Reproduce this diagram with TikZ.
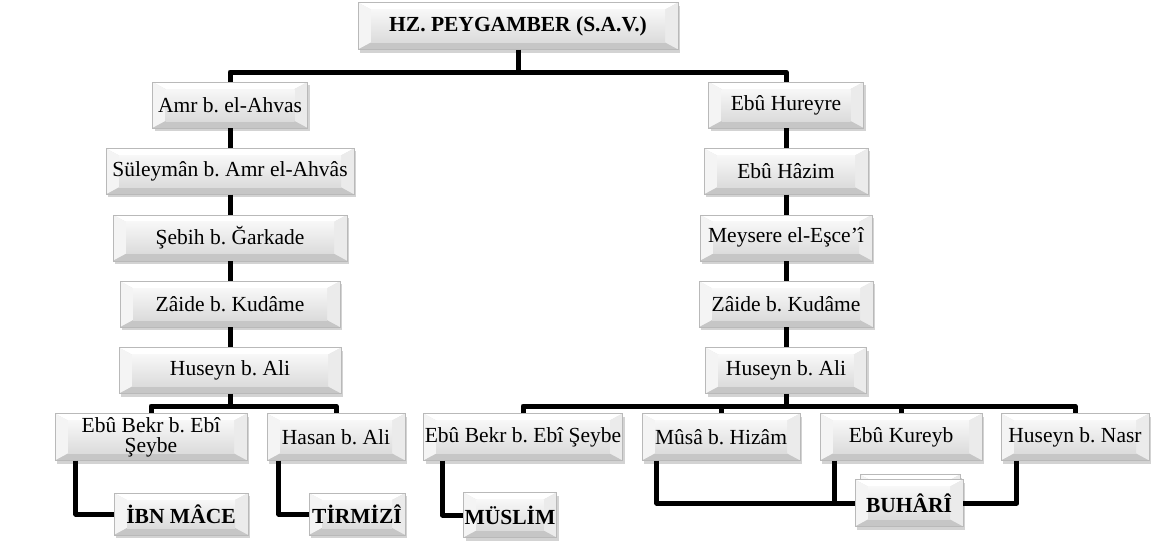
\documentclass[tikz,border=0pt]{standalone}
\usepackage{fontspec}
\setmainfont{Liberation Serif}
\usetikzlibrary{positioning,calc,shadows}
\frenchspacing

\tikzset{
    bevel/.style={path picture={
        \fill[gray!22] (path picture bounding box.north west) rectangle (path picture bounding box.south east);
        \fill[white] (path picture bounding box.north west) -- (path picture bounding box.north east)
            -- ($(path picture bounding box.north east)+(-13pt,-7pt)$) -- ($(path picture bounding box.north west)+(13pt,-7pt)$) -- cycle;
        \fill[white!70!gray!30] (path picture bounding box.north west) -- (path picture bounding box.south west)
            -- ($(path picture bounding box.south west)+(13pt,7pt)$) -- ($(path picture bounding box.north west)+(13pt,-7pt)$) -- cycle;
        \fill[white!60!gray!40] (path picture bounding box.north east) -- (path picture bounding box.south east)
            -- ($(path picture bounding box.south east)+(-13pt,7pt)$) -- ($(path picture bounding box.north east)+(-13pt,-7pt)$) -- cycle;
        \fill[gray!45] (path picture bounding box.south west) -- (path picture bounding box.south east)
            -- ($(path picture bounding box.south east)+(-13pt,7pt)$) -- ($(path picture bounding box.south west)+(13pt,7pt)$) -- cycle;
        \shade[top color=gray!6, bottom color=gray!28] ($(path picture bounding box.north west)+(13pt,-7pt)$) rectangle ($(path picture bounding box.south east)+(-13pt,7pt)$);
    }}
}

\begin{document}
\begin{tikzpicture}[
    x=1pt, y=-1pt,
    node distance=20pt,
    box/.style={rectangle, draw=gray!55, fill=gray!20, bevel, minimum height=46pt, inner sep=1pt, align=center, font=\fontsize{21.5}{20}\selectfont, drop shadow={opacity=0.35, shadow xshift=2pt, shadow yshift=-3pt}},
    bbox/.style={box, font=\bfseries\fontsize{21.5}{20}\selectfont},
    conn/.style={line width=5pt, line join=round}
]
\useasboundingbox (0,0) rectangle (1152,546);

% Top
\node[bbox, minimum width=320pt, minimum height=47pt] (peygamber) at (518,26) {HZ. PEYGAMBER (S.A.V.)};
\coordinate (topbus) at (518,72);

% Left chain
\node[box, minimum width=155pt] (amr) at (230,105) {Amr b. el-Ahvas};
\node[box, minimum width=248pt, below=of amr] (suleyman) {Süleymân b. Amr el-Ahvâs};
\node[box, minimum width=234pt, below=of suleyman] (sebih) {Şebih b. Ğarkade};
\node[box, minimum width=220pt, below=of sebih] (zaideL) {Zâide b. Kudâme};
\node[box, minimum width=222pt, below=of zaideL] (huseynL) {Huseyn b. Ali};
\coordinate (leftbus) at (230,406);

% Right chain
\node[box, minimum width=155pt] (hureyre) at (786,105) {Ebû Hureyre};
\node[box, minimum width=164pt, below=of hureyre] (hazim) {Ebû Hâzim};
\node[box, minimum width=172pt, below=of hazim] (meysere) {Meysere el-Eşce'î};
\node[box, minimum width=174pt, below=of meysere] (zaideR) {Zâide b. Kudâme};
\node[box, minimum width=161pt, below=of zaideR] (huseynR) {Huseyn b. Ali};
\coordinate (rightbus) at (786,406);

% Left students
\node[box, minimum width=192pt, minimum height=47pt] (ebubekrL) at (151,437) {Ebû Bekr b. Ebî\\Şeybe};
\node[box, minimum width=138pt, minimum height=47pt] (hasan) at (336,437) {Hasan b. Ali};

% Right students
\node[box, minimum width=199pt, minimum height=47pt] (ebubekrR) at (523,437) {Ebû Bekr b. Ebî Şeybe};
\node[box, minimum width=158pt, minimum height=47pt] (musa) at (721,437) {Mûsâ b. Hizâm};
\node[box, minimum width=162pt, minimum height=47pt] (kureyb) at (901,437) {Ebû Kureyb};
\node[box, minimum width=148pt, minimum height=47pt] (nasr) at (1075,437) {Huseyn b. Nasr};

% Collectors
\node[bbox, minimum width=134pt, minimum height=42pt] (ibnmace) at (181,514) {İBN MÂCE};
\node[bbox, minimum width=96pt, minimum height=42pt] (tirmizi) at (357,514) {TİRMİZÎ};
\node[bbox, minimum width=93pt, minimum height=45pt] (muslim) at (510,515) {MÜSLİM};
\node[box, minimum width=100pt, minimum height=47pt] (buhariback) at (910,498) {};
\node[bbox, minimum width=108pt, minimum height=47pt] (buhari) at (909,503) {BUHÂRÎ};

% Connectors
\draw[conn] (peygamber) -- (topbus);
\draw[conn] (amr.north) |- (topbus) -| (hureyre.north);

\draw[conn] (amr) -- (suleyman);
\draw[conn] (suleyman) -- (sebih);
\draw[conn] (sebih) -- (zaideL);
\draw[conn] (zaideL) -- (huseynL);
\draw[conn] (huseynL) -- (leftbus);
\draw[conn] (ebubekrL.north) |- (leftbus) -| (hasan.north);

\draw[conn] (hureyre) -- (hazim);
\draw[conn] (hazim) -- (meysere);
\draw[conn] (meysere) -- (zaideR);
\draw[conn] (zaideR) -- (huseynR);
\draw[conn] (huseynR) -- (rightbus);
\draw[conn] (ebubekrR.north) |- (rightbus) -| (nasr.north);
\draw[conn] (musa.north) -- (musa.north |- rightbus);
\draw[conn] (kureyb.north) -- (kureyb.north |- rightbus);

\draw[conn] ($(ebubekrL.south west)+(21,0)$) |- (ibnmace.west);
\draw[conn] ($(hasan.south west)+(12,0)$) |- (tirmizi.west);
\draw[conn] ($(ebubekrR.south west)+(19,0)$) |- (muslim.west);
\draw[conn] ($(musa.south west)+(15,0)$) |- (buhari.west);
\draw[conn] ($(kureyb.south west)+(15,0)$) |- (buhari.west);
\draw[conn] ($(nasr.south west)+(16,0)$) |- (buhari.east);

\end{tikzpicture}
\end{document}
